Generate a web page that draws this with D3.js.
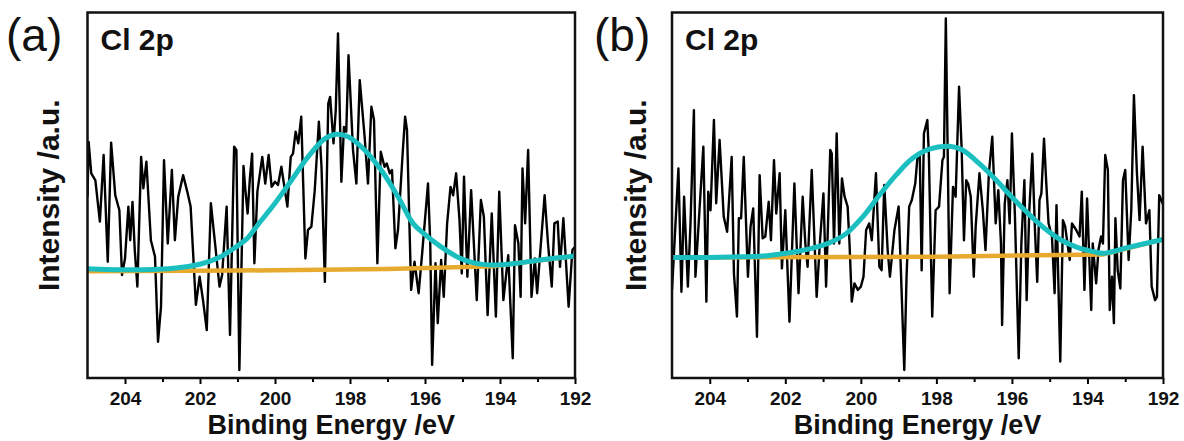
<!DOCTYPE html>
<html>
<head>
<meta charset="utf-8">
<script src="https://cdn.jsdelivr.net/npm/d3@7"></script>
<style>
  body { margin: 0; background: #fff; }
  text { font-family: Arial, "Liberation Sans", sans-serif; }
</style>
</head>
<body>
<div id="chart"></div>
<script>
// ---- data (binding energy in eV, intensity in arbitrary units 0-100) ----
var rawEnergyA = [205.00,204.97,204.90,204.79,204.67,204.57,204.46,204.37,204.26,204.15,204.08,204.00,203.91,203.86,203.80,203.74,203.67,203.57,203.51,203.43,203.31,203.20,203.12,203.04,202.96,202.86,202.75,202.67,202.58,202.45,202.34,202.25,202.11,202.01,201.92,201.82,201.71,201.58,201.48,201.41,201.29,201.20,201.09,201.03,200.95,200.84,200.79,200.73,200.67,200.61,200.55,200.47,200.34,200.26,200.17,200.09,200.00,199.92,199.83,199.67,199.58,199.52,199.45,199.38,199.30,199.19,199.12,199.03,198.94,198.83,198.76,198.67,198.58,198.53,198.44,198.38,198.32,198.23,198.16,198.10,198.04,197.92,197.83,197.74,197.61,197.52,197.43,197.36,197.27,197.18,197.08,197.02,196.94,196.88,196.79,196.72,196.59,196.53,196.48,196.37,196.28,196.17,196.08,195.92,195.86,195.81,195.72,195.66,195.57,195.50,195.41,195.32,195.25,195.17,195.08,195.02,194.96,194.87,194.77,194.62,194.51,194.43,194.33,194.22,194.11,194.02,193.91,193.78,193.66,193.60,193.51,193.45,193.40,193.33,193.25,193.16,193.07,193.01,192.94,192.81,192.72,192.62,192.55,192.46,192.40,192.31,192.17,192.07,192.00];
var rawIntensityA = [49.6,64.6,56.0,54.1,42.8,61.0,31.8,64.4,50.0,45.9,28.2,32.7,46.9,37.7,48.2,35.0,25.0,60.5,51.9,59.2,37.7,33.2,9.9,19.5,59.6,36.8,56.9,37.7,49.6,55.5,51.0,46.9,20.0,27.7,21.3,13.1,47.8,35.0,25.0,28.2,46.9,11.8,63.3,62.4,2.2,58.0,51.4,45.0,54.6,61.4,31.4,51.0,60.5,53.2,61.0,52.3,53.7,52.8,57.8,46.9,60.5,61.4,67.4,64.2,71.5,32.7,40.5,41.4,51.4,70.1,57.8,26.3,75.1,76.9,64.2,73.3,94.3,53.7,68.7,67.4,88.3,62.4,53.2,81.5,66.0,53.2,74.2,70.6,31.4,61.9,57.8,58.7,56.0,56.9,35.5,40.5,62.4,71.5,67.8,24.1,31.8,23.2,33.6,53.2,36.8,3.6,31.4,15.0,32.3,22.2,42.3,52.3,50.0,56.0,43.2,28.6,55.1,27.7,51.4,21.3,48.7,44.1,17.2,45.0,16.8,51.0,21.3,33.6,5.4,41.8,36.8,22.2,57.3,42.3,62.4,22.2,32.7,23.2,32.7,50.0,36.8,25.0,42.3,42.8,30.4,43.7,19.5,35.0,35.9];

var fitEnergyA = [205.0,204.5,204.0,203.5,203.0,202.47,201.98,201.49,201.05,200.73,200.45,200.0,199.56,199.12,198.67,198.37,198.05,197.61,197.17,196.72,196.32,196.03,195.59,195.15,194.70,194.17,193.64,192.93,192.0];
var fitIntensityA = [29.9,29.7,29.6,29.6,29.8,30.3,31.2,33.0,35.8,38.3,42.0,47.8,54.1,60.5,65.5,66.7,66.0,62.4,56.9,49.6,42.3,39.5,36.0,33.2,31.5,30.9,31.3,32.3,33.4];

var baseEnergyA = [205.0,201.0,197.0,194.17,192.0];
var baseIntensityA = [29.2,29.4,29.8,30.6,33.4];

var rawEnergyB = [205.00,204.83,204.75,204.68,204.62,204.58,204.51,204.42,204.38,204.17,204.09,204.04,203.98,203.89,203.83,203.74,203.63,203.54,203.42,203.36,203.28,203.23,203.17,203.10,202.99,202.92,202.85,202.75,202.68,202.60,202.53,202.44,202.38,202.30,202.24,202.15,202.09,202.00,201.89,201.76,201.65,201.54,201.47,201.41,201.30,201.17,201.08,200.99,200.92,200.81,200.77,200.71,200.64,200.57,200.50,200.43,200.35,200.30,200.24,200.17,200.08,200.00,199.93,199.86,199.78,199.71,199.60,199.51,199.45,199.38,199.29,199.23,199.11,199.00,198.94,198.85,198.79,198.72,198.65,198.56,198.50,198.44,198.39,198.33,198.24,198.20,198.11,198.02,197.93,197.84,197.80,197.75,197.71,197.65,197.56,197.49,197.40,197.33,197.27,197.21,197.16,197.09,197.01,196.96,196.86,196.77,196.70,196.61,196.52,196.43,196.36,196.29,196.26,196.19,196.12,196.06,196.00,195.92,195.82,195.75,195.67,195.61,195.54,195.46,195.39,195.33,195.27,195.22,195.15,195.09,195.03,194.94,194.87,194.82,194.72,194.65,194.59,194.47,194.41,194.30,194.21,194.15,194.08,194.01,193.90,193.86,193.77,193.71,193.64,193.59,193.53,193.46,193.41,193.35,193.30,193.26,193.20,193.13,193.06,193.00,192.91,192.84,192.77,192.69,192.62,192.54,192.45,192.36,192.30,192.21,192.16,192.10,192.00];
var rawIntensityB = [24.1,57.3,23.6,49.6,35.0,25.0,42.3,73.3,27.7,63.3,20.9,51.0,45.9,70.6,47.8,65.1,44.1,40.0,60.5,28.6,16.8,43.7,43.7,60.5,27.7,41.4,46.4,11.3,55.5,38.2,38.7,48.2,37.7,59.6,45.0,56.0,30.0,45.9,15.4,53.2,23.2,49.6,36.8,30.4,56.9,22.2,37.7,50.5,25.0,62.4,61.4,36.8,66.9,36.8,54.6,49.6,46.9,36.8,20.9,25.9,24.1,25.0,27.7,40.5,42.3,37.7,56.0,30.4,29.5,52.8,35.0,27.7,40.5,46.9,29.5,2.2,27.7,46.9,48.7,53.2,60.5,61.4,29.5,66.9,70.6,61.4,16.8,45.9,46.9,59.6,60.5,98.4,68.7,23.2,52.3,49.6,79.7,62.4,37.7,54.1,53.2,49.6,27.7,41.4,56.0,45.9,35.0,56.0,66.0,42.3,51.4,36.8,14.5,47.8,54.1,42.3,66.9,44.1,5.4,36.8,54.1,21.3,45.9,61.4,40.5,26.3,48.7,50.5,65.5,53.2,42.3,38.7,23.2,47.3,4.5,43.2,41.4,32.3,42.3,40.5,38.7,51.0,24.1,49.1,18.6,36.8,25.9,35.0,38.7,36.8,61.0,56.9,18.6,27.7,15.0,43.7,29.5,24.5,54.1,56.9,32.3,45.9,77.4,56.0,43.2,63.3,42.3,45.9,25.0,21.3,22.2,50.0,47.5];

var fitEnergyB = [205.0,204.0,203.45,202.57,202.13,201.69,201.25,200.83,200.39,199.95,199.51,199.07,198.63,198.19,197.66,197.31,196.87,196.45,196.01,195.57,195.13,194.69,194.25,193.81,193.59,192.93,192.0];
var fitIntensityB = [33.0,33.0,33.1,33.4,33.9,34.6,35.6,37.0,39.5,44.1,50.0,55.5,60.1,62.6,63.4,62.4,58.7,54.5,49.6,45.0,40.9,37.7,35.7,34.5,34.1,35.7,37.9];

var baseEnergyB = [205.0,198.0,193.59,192.0];
var baseIntensityB = [33.0,33.2,33.8,37.9];

var majorTicks = [204,202,200,198,196,194,192];
var minorTicks = [203,201,199,197,195,193];

var panelLetters = ['(a)','(b)'];
var panelTag = 'Cl 2p';
var xTitle = 'Binding Energy /eV';
var yTitle = 'Intensity /a.u.';

// ---- layout ----
var svgWidth = 1184,
  svgHeight = 441;
var plotTop = 12.5,
  plotBottom = 378;

var panels = [
  {left: 87.5, right: 575, letterX: 6, yTitleX: 59,
   raw: [rawEnergyA, rawIntensityA], fit: [fitEnergyA, fitIntensityA], base: [baseEnergyA, baseIntensityA]},
  {left: 672, right: 1163, letterX: 594, yTitleX: 646,
   raw: [rawEnergyB, rawIntensityB], fit: [fitEnergyB, fitIntensityB], base: [baseEnergyB, baseIntensityB]}
];

var svg = d3.select('#chart')
  .append('svg')
  .attr('width', svgWidth)
  .attr('height', svgHeight);

function zip(xs, ys) {
  return xs.map((x, i) => ({e: x, v: ys[i]}));
}

panels.forEach((p, i) => {
  var xScale = d3.scaleLinear().domain([205, 192]).range([p.left, p.right]);
  var yScale = d3.scaleLinear().domain([0, 100]).range([plotBottom, plotTop]);

  var g = svg.append('g');

  // clip so the lines stay inside the frame
  g.append('clipPath').attr('id', 'clip' + i)
    .append('rect')
    .attr('x', p.left).attr('y', plotTop)
    .attr('width', p.right - p.left).attr('height', plotBottom - plotTop);

  var plot = g.append('g').attr('clip-path', `url(#clip${i})`);

  var rawLine = d3.line().x(d => xScale(d.e)).y(d => yScale(d.v));
  var smoothLine = d3.line().x(d => xScale(d.e)).y(d => yScale(d.v)).curve(d3.curveCatmullRom.alpha(0.5));

  plot.append('path')
    .datum(zip(p.raw[0], p.raw[1]))
    .attr('d', rawLine)
    .attr('fill', 'none')
    .attr('stroke', '#000')
    .attr('stroke-width', 2.4)
    .attr('stroke-linejoin', 'round');

  plot.append('path')
    .datum(zip(p.base[0], p.base[1]))
    .attr('d', d3.line().x(d => xScale(d.e)).y(d => yScale(d.v)))
    .attr('fill', 'none')
    .attr('stroke', '#e8a92f')
    .attr('stroke-width', 4.5);

  plot.append('path')
    .datum(zip(p.fit[0], p.fit[1]))
    .attr('d', smoothLine)
    .attr('fill', 'none')
    .attr('stroke', '#1bbfbf')
    .attr('stroke-width', 5);

  // bottom axis: labelled major ticks and bare minor ticks
  g.append('g')
    .attr('transform', `translate(0,${plotBottom})`)
    .call(d3.axisBottom(xScale).tickValues(minorTicks).tickSize(4).tickSizeOuter(0).tickFormat(''))
    .call(a => a.select('.domain').remove())
    .selectAll('line').attr('stroke-width', 2);

  var ax = g.append('g')
    .attr('transform', `translate(0,${plotBottom})`)
    .call(d3.axisBottom(xScale).tickValues(majorTicks).tickSize(6).tickPadding(8).tickSizeOuter(0).tickFormat(d3.format('d')));
  ax.select('.domain').remove();
  ax.selectAll('line').attr('stroke-width', 2);
  ax.selectAll('text')
    .attr('font-size', 19)
    .attr('font-weight', 'bold')
    .attr('font-family', 'Arial, "Liberation Sans", sans-serif')
    .attr('fill', '#111');

  // frame
  g.append('rect')
    .attr('x', p.left).attr('y', plotTop)
    .attr('width', p.right - p.left).attr('height', plotBottom - plotTop)
    .attr('fill', 'none')
    .attr('stroke', '#111')
    .attr('stroke-width', 2.5);

  // texts
  g.append('text')
    .attr('x', (p.left + p.right) / 2)
    .attr('y', 434)
    .attr('text-anchor', 'middle')
    .attr('font-size', 27)
    .attr('font-weight', 'bold')
    .attr('fill', '#111')
    .text(xTitle);

  g.append('text')
    .attr('transform', `translate(${p.yTitleX},${(plotTop + plotBottom) / 2})rotate(-90)`)
    .attr('text-anchor', 'middle')
    .attr('font-size', 30)
    .attr('font-weight', 'bold')
    .attr('fill', '#111')
    .text(yTitle);

  g.append('text')
    .attr('x', p.left + 13)
    .attr('y', 50)
    .attr('font-size', 30)
    .attr('font-weight', 'bold')
    .attr('fill', '#111')
    .text(panelTag);

  g.append('text')
    .attr('x', p.letterX)
    .attr('y', 51)
    .attr('font-size', 46)
    .attr('fill', '#111')
    .text(panelLetters[i]);
});
</script>
</body>
</html>
